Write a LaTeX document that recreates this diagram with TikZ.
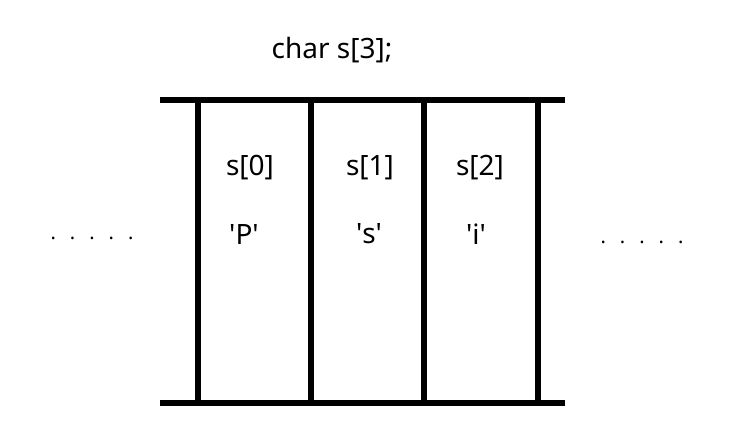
\documentclass[tikz,border=0pt]{standalone}
\usepackage{fontspec}
\setmainfont{Noto Sans}
\usetikzlibrary{positioning}
\tikzstyle{wall} = [draw, line width=6pt]
\tikzstyle{txt} = [inner sep=0pt, font=\fontsize{28}{32}\selectfont]
\tikzstyle{dots} = [inner sep=0pt, font=\fontsize{20}{24}\selectfont]
\newcommand{\chr}[1]{\textquotesingle#1\textquotesingle}
\newcommand{\gap}{\hspace{14pt}}

\begin{document}
\begin{tikzpicture}[x=1pt,y=-1pt]
   \useasboundingbox (0,0) rectangle (738,424);

   % Declaration
   \node[txt] (decl) at (332,50) {char s[3];};

   % Walls of the array
   \coordinate (topL) at (160,100);
   \coordinate (topR) at (565,100);
   \coordinate (botL) at (160,403);
   \coordinate (botR) at (565,403);
   \path [wall] (topL) -- (topR);
   \path [wall] (botL) -- (botR);
   \foreach \x in {198,311,424,538}
      \path [wall] (\x,100) -- (\x,403);

   % Cells
   \node[txt] (s0) at (250,168) {s[0]};
   \node[txt] (s1) at (370,168) {s[1]};
   \node[txt] (s2) at (480,168) {s[2]};
   \node[txt] (c0) at (244,234) {\chr{P}};
   \node[txt] (c1) at (369,234) {\chr{s}};
   \node[txt] (c2) at (476,234) {\chr{i}};

   % Dots
   \node[dots] (dotsL) at (92,238) {.\gap.\gap.\gap.\gap.};
   \node[dots] (dotsR) at (642,242) {.\gap.\gap.\gap.\gap.};

\end{tikzpicture}
\end{document}
